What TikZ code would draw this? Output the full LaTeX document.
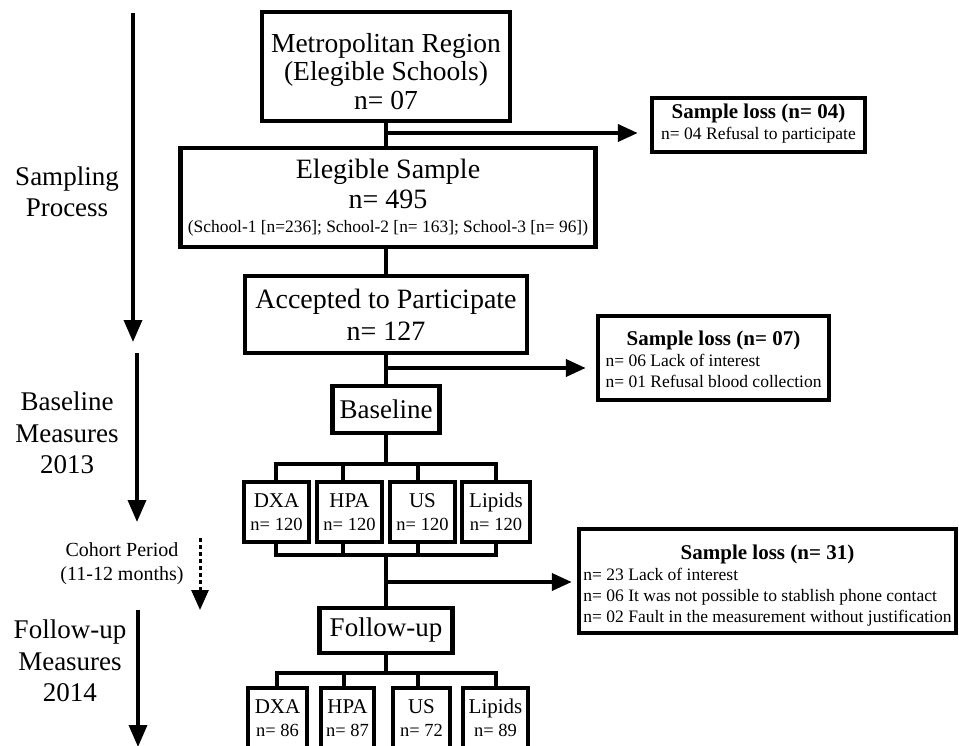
\documentclass[tikz,border=0pt]{standalone}
\usepackage{fontspec}
\setmainfont{Liberation Serif}
\usetikzlibrary{arrows.meta,calc}
\newcommand{\nsmall}{\fontsize{18.5}{20}\selectfont}
\begin{document}
\begin{tikzpicture}[x=1pt,y=-1pt,
  box/.style={draw, line width=4.5pt, inner sep=0pt, align=center},
  big/.style={font=\fontsize{27.5}{28.5}\selectfont},
  mbox/.style={box, minimum height=60pt, font=\fontsize{21}{23}\selectfont},
  lossbox/.style={box, font=\fontsize{17.5}{21}\selectfont},
  conn/.style={line width=4pt},
  arr/.style={line width=4pt, -{Triangle[length=20pt,width=17pt]}},
  sidearr/.style={line width=3.5pt, -{Triangle[length=22pt,width=18pt]}},
  lab/.style={align=center, inner sep=0pt, font=\fontsize{27}{31.5}\selectfont}]
\clip (0,0) rectangle (959,746);
\useasboundingbox (0,0) rectangle (959,746);

% main column
\node[box, big, minimum width=248pt, minimum height=109pt] (metro) at (386,66.5)
  {\rule{0pt}{29pt}Metropolitan Region\\(Elegible Schools)\\n= 07};
\node[box, minimum width=415pt, minimum height=99pt, font=\fontsize{28}{30}\selectfont] (elig) at (388,197.5)
  {Elegible Sample\\n= 495\\[-6pt]{\fontsize{17.4}{18}\selectfont (School-1 [n=236]; School-2 [n= 163]; School-3 [n= 96])}};
\node[box, minimum width=282pt, minimum height=77pt, font=\fontsize{28}{32}\selectfont] (acc) at (386,314.5)
  {Accepted to Participate\\n= 127};
\node[box, minimum width=107pt, minimum height=47pt, font=\fontsize{27}{30}\selectfont] (base) at (386,409.5) {Baseline};

% baseline measures
\node[mbox, minimum width=65pt] (dxa1) at (276.5,512) {DXA\\{\nsmall n= 120}};
\node[mbox, minimum width=65pt] (hpa1) at (349.5,512) {HPA\\{\nsmall n= 120}};
\node[mbox, minimum width=65pt] (us1) at (422.5,512) {US\\{\nsmall n= 120}};
\node[mbox, minimum width=68pt] (lip1) at (496,512) {Lipids\\{\nsmall n= 120}};

\node[box, minimum width=133pt, minimum height=45pt, font=\fontsize{27}{30}\selectfont] (fu) at (386,630.5) {Follow-up};

% follow-up measures
\node[mbox, minimum width=59pt] (dxa2) at (277.5,718) {DXA\\{\nsmall n= 86}};
\node[mbox, minimum width=53pt] (hpa2) at (347.5,718) {HPA\\{\nsmall n= 87}};
\node[mbox, minimum width=57pt] (us2) at (421.5,718) {US\\{\nsmall n= 72}};
\node[mbox, minimum width=65pt] (lip2) at (495.5,718) {Lipids\\{\nsmall n= 89}};

% sample loss boxes
\node[lossbox, minimum width=213pt, minimum height=54pt] (loss1) at (758.5,125)
  {\begin{tabular}{@{}l@{}}\multicolumn{1}{@{}c@{}}{\fontsize{21}{23}\selectfont\bfseries Sample loss (n= 04)}\\ n= 04 Refusal to participate\end{tabular}};
\node[lossbox, minimum width=231pt, minimum height=84pt] (loss2) at (713.5,358)
  {\begin{tabular}{@{}l@{}}\multicolumn{1}{@{}c@{}}{\rule{0pt}{24pt}\fontsize{21}{23}\selectfont\bfseries Sample loss (n= 07)}\\ n= 06 Lack of interest\\ n= 01 Refusal blood collection\end{tabular}};
\node[lossbox, minimum width=377pt, minimum height=104pt] (loss3) at (767.5,581)
  {\begin{tabular}{@{}l@{}}\multicolumn{1}{@{}c@{}}{\rule{0pt}{26pt}\fontsize{21}{23}\selectfont\bfseries Sample loss (n= 31)}\\ n= 23 Lack of interest\\ n= 06 It was not possible to stablish phone contact\\ n= 02 Fault in the measurement without justification\end{tabular}};

% connectors, main column
\draw[conn] (metro.south) -- (metro.south |- elig.north);
\draw[conn] (elig.south -| acc.north) -- (acc.north);
\draw[conn] (acc.south) -- (base.north);
\coordinate (j1) at (386,133);
\coordinate (j2) at (386,368);
\coordinate (j3) at (387,582);
\draw[arr, shorten >=12pt] (j1) -- (j1 -| loss1.west);
\draw[arr, shorten >=10pt] (j2) -- (j2 -| loss2.west);
\draw[arr, shorten >=5pt] (j3) -- (j3 -| loss3.west);

% baseline bus
\coordinate (bb) at (386,464);
\coordinate (d1) at (276,464);
\coordinate (d2) at (343,464);
\coordinate (d3) at (418,464);
\coordinate (d4) at (496,464);
\draw[conn] (base.south) -- (bb);
\draw[conn] (d1 |- dxa1.north) -- (d1) -- (d4) -- (d4 |- lip1.north);
\draw[conn] (d2) -- (d2 |- hpa1.north);
\draw[conn] (d3) -- (d3 |- us1.north);

\coordinate (e1) at (276,555);
\coordinate (e2) at (343,555);
\coordinate (e3) at (418,555);
\coordinate (e4) at (496,555);
\coordinate (ee) at (386,555);
\draw[conn] (d1 |- dxa1.south) -- (e1) -- (e4) -- (d4 |- lip1.south);
\draw[conn] (d2 |- hpa1.south) -- (e2);
\draw[conn] (d3 |- us1.south) -- (e3);
\draw[conn] (ee) -- (fu.north);

% follow-up bus
\coordinate (ff) at (386,673);
\coordinate (g1) at (277,673);
\coordinate (g2) at (344,673);
\coordinate (g3) at (418,673);
\coordinate (g4) at (496,673);
\draw[conn] (fu.south) -- (ff);
\draw[conn] (g1 |- dxa2.north) -- (g1) -- (g4) -- (g4 |- lip2.north);
\draw[conn] (g2) -- (g2 |- hpa2.north);
\draw[conn] (g3) -- (g3 |- us2.north);

% left timeline
\coordinate (s1a) at (133,13);   \coordinate (s1b) at (133,342);
\coordinate (s2a) at (137,353);  \coordinate (s2b) at (137,522);
\coordinate (s3a) at (200,538);  \coordinate (s3b) at (200,610);
\coordinate (s4a) at (138,610);  \coordinate (s4b) at (138,747);
\draw[sidearr] (s1a) -- (s1b);
\draw[sidearr] (s2a) -- (s2b);
\draw[line width=3pt, dash pattern=on 4pt off 3pt, -{Triangle[length=20pt,width=17pt]}] (s3a) -- (s3b);
\draw[sidearr] (s4a) -- (s4b);

\node[lab] (samp) at (67,192) {Sampling\\Process};
\node[lab] (basem) at (67,433) {Baseline\\Measures\\2013};
\node[align=center, inner sep=0pt, font=\fontsize{20}{24}\selectfont] (coh) at (122,564) {Cohort Period\\(11-12 months)};
\node[lab] (fum) at (70,661) {Follow-up\\Measures\\2014};
\end{tikzpicture}
\end{document}
